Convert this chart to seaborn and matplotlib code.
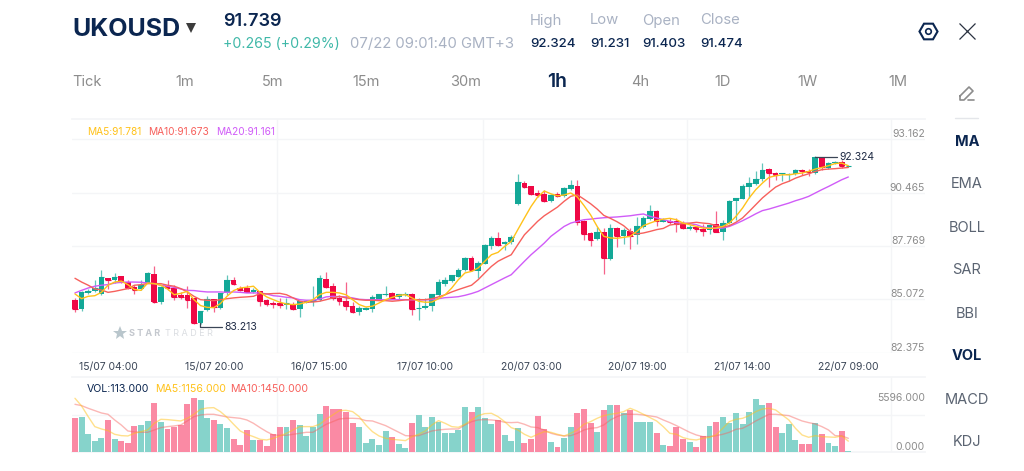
"""Candlestick trading screen for UKOUSD, 1h candles with volume panel."""

import matplotlib
matplotlib.use("Agg")
import matplotlib.pyplot as plt
import numpy as np
import pandas as pd
import seaborn as sns

# ---------------------------------------------------------------------------
# Price candles
# ---------------------------------------------------------------------------
OPENS = [
    85.05, 84.60, 85.41, 85.47, 85.34, 86.15, 86.05, 86.23, 85.94, 85.69,
    85.59, 85.89, 86.35, 84.92, 85.76, 85.64, 85.27, 85.27, 85.14, 83.86,
    84.51, 85.09, 84.63, 85.37, 86.06, 85.66, 85.64, 85.46, 85.47, 85.02,
    84.90, 84.88, 84.80, 84.83, 84.56, 84.90, 84.95, 85.05, 86.11, 85.72,
    85.12, 85.00, 84.75, 84.45, 84.55, 84.60, 85.05, 85.27, 85.39, 85.17,
    85.29, 85.35, 84.61, 84.63, 84.72, 85.29, 85.84, 85.98, 86.21, 86.53,
    87.16, 86.48, 86.87, 87.74, 88.17, 87.88, 87.95, 89.88, 90.96, 90.77,
    90.44, 90.37, 90.02, 90.37, 90.27, 90.64, 90.79, 89.02, 88.42, 88.10,
    88.49, 87.09, 88.69, 88.25, 88.54, 88.33, 88.72, 89.12, 89.55, 88.99,
    89.04, 89.01, 88.87, 88.64, 88.70, 88.64, 88.55, 88.87, 88.49, 88.92,
    90.02, 90.15, 90.72, 90.87, 91.13, 91.65, 91.45, 91.38, 91.35, 91.40,
    91.60, 91.57, 91.45, 92.24, 91.70, 91.95, 92.00, 91.78,
]
CLOSES = [
    84.60, 85.44, 85.51, 85.64, 86.18, 86.03, 86.21, 85.94, 85.66, 85.56,
    85.81, 86.38, 84.92, 85.69, 85.64, 85.20, 85.20, 85.05, 83.86, 84.50,
    85.10, 84.68, 85.37, 86.05, 85.84, 85.56, 85.46, 85.52, 85.00, 84.83,
    84.83, 84.80, 84.87, 84.60, 84.97, 85.00, 85.05, 86.13, 85.69, 85.14,
    84.97, 84.72, 84.45, 84.63, 84.63, 85.17, 85.32, 85.35, 85.15, 85.32,
    85.35, 84.58, 84.65, 84.75, 85.32, 85.93, 86.05, 86.28, 86.57, 87.16,
    86.53, 86.92, 87.83, 88.18, 87.83, 87.98, 88.23, 90.99, 90.74, 90.39,
    90.35, 90.02, 90.35, 90.30, 90.69, 90.84, 88.99, 88.38, 88.08, 88.49,
    87.14, 88.69, 88.25, 88.55, 88.28, 88.75, 89.16, 89.53, 89.01, 89.09,
    88.96, 88.86, 88.65, 88.74, 88.64, 88.50, 88.84, 88.49, 88.92, 90.05,
    90.19, 90.79, 90.93, 91.16, 91.62, 91.43, 91.35, 91.43, 91.40, 91.60,
    91.53, 91.51, 92.24, 91.77, 91.97, 92.02, 91.78, 91.83,
]
HIGHS = [
    85.14, 85.47, 85.59, 86.06, 86.57, 86.15, 86.40, 86.26, 86.03, 85.81,
    86.06, 86.43, 86.73, 85.76, 86.03, 85.81, 85.42, 85.72, 85.14, 84.50,
    85.22, 85.09, 85.41, 86.28, 86.18, 85.72, 85.81, 85.64, 85.51, 85.09,
    84.97, 85.14, 85.14, 84.92, 85.00, 85.05, 85.72, 86.31, 86.45, 85.89,
    85.30, 85.93, 84.92, 84.72, 84.68, 85.27, 85.35, 85.76, 85.42, 85.35,
    85.42, 85.39, 85.14, 85.14, 85.35, 86.11, 86.20, 86.31, 86.65, 87.19,
    87.27, 86.99, 87.86, 88.25, 88.45, 88.01, 88.32, 91.40, 91.03, 90.81,
    90.57, 90.61, 90.39, 90.49, 90.72, 91.08, 91.09, 89.06, 88.45, 88.72,
    88.65, 88.89, 88.72, 88.67, 88.67, 89.23, 89.29, 89.83, 89.60, 89.16,
    89.18, 89.18, 89.01, 88.84, 88.79, 88.89, 88.89, 89.55, 89.09, 90.10,
    90.19, 90.89, 91.25, 91.53, 91.95, 91.70, 91.50, 91.45, 91.45, 91.65,
    91.65, 91.65, 92.32, 92.27, 92.00, 92.04, 92.09, 91.87,
]
LOWS = [
    84.41, 84.46, 85.32, 85.44, 85.30, 85.61, 85.89, 85.89, 85.59, 85.35,
    85.56, 85.89, 84.88, 84.83, 85.56, 85.02, 85.09, 84.63, 83.82, 83.82,
    84.46, 84.41, 84.60, 85.30, 85.81, 85.47, 85.42, 85.39, 84.72, 84.72,
    84.63, 84.63, 84.60, 84.55, 84.16, 84.88, 84.72, 84.97, 85.64, 85.05,
    84.80, 84.55, 84.38, 84.28, 84.51, 84.41, 85.02, 85.22, 85.12, 85.05,
    85.25, 84.28, 84.04, 84.60, 84.46, 85.25, 85.72, 85.94, 86.18, 86.48,
    86.48, 86.15, 86.84, 87.61, 87.78, 87.54, 87.88, 89.85, 90.67, 90.35,
    90.22, 89.98, 89.98, 90.24, 90.24, 90.61, 88.82, 88.08, 87.78, 88.06,
    86.36, 87.05, 87.71, 87.88, 87.61, 87.88, 88.67, 89.09, 88.79, 88.96,
    88.89, 88.45, 88.62, 88.59, 88.45, 88.28, 88.38, 88.45, 88.05, 88.87,
    89.09, 90.13, 90.19, 90.84, 91.03, 90.72, 91.08, 91.06, 91.03, 91.35,
    91.36, 91.31, 91.41, 91.58, 91.67, 91.92, 91.72, 91.75,
]

# ---------------------------------------------------------------------------
# Moving averages on price
# ---------------------------------------------------------------------------
MA5 = [
    85.34, 85.10, 85.22, 85.25, 85.42, 85.78, 85.94, 85.99, 85.81, 85.56,
    85.52, 85.89, 85.86, 85.78, 85.59, 85.30, 85.37, 85.47, 85.05, 84.75,
    84.66, 84.65, 84.85, 85.22, 85.51, 85.64, 85.68, 85.73, 85.42, 85.19,
    85.05, 84.92, 84.83, 84.80, 84.83, 84.92, 85.05, 85.30, 85.42, 85.42,
    85.39, 85.30, 85.05, 84.80, 84.68, 84.72, 84.88, 85.05, 85.17, 85.27,
    85.30, 85.14, 84.97, 84.92, 84.93, 85.10, 85.30, 85.64, 86.06, 86.40,
    86.48, 86.65, 86.99, 87.32, 87.44, 87.74, 87.99, 88.59, 89.18, 89.76,
    90.24, 90.54, 90.40, 90.30, 90.34, 90.44, 90.24, 89.81, 89.34, 88.75,
    88.25, 88.17, 88.15, 88.20, 88.25, 88.50, 88.79, 88.92, 89.04, 89.12,
    89.16, 89.09, 88.92, 88.84, 88.75, 88.67, 88.65, 88.67, 88.75, 88.92,
    89.26, 89.68, 90.19, 90.61, 90.94, 91.23, 91.31, 91.36, 91.36, 91.41,
    91.45, 91.53, 91.65, 91.73, 91.82, 91.93, 91.95, 91.82,
]
MA10 = [
    86.13, 85.94, 85.78, 85.59, 85.54, 85.42, 85.47, 85.54, 85.61, 85.78,
    85.81, 85.86, 85.86, 85.86, 85.78, 85.73, 85.61, 85.44, 85.22, 85.05,
    85.02, 85.00, 85.05, 85.10, 85.14, 85.17, 85.19, 85.22, 85.36, 85.34,
    85.36, 85.37, 85.30, 85.14, 84.97, 84.92, 84.93, 84.97, 85.05, 85.14,
    85.22, 85.14, 85.10, 85.05, 85.02, 85.02, 85.00, 85.00, 84.97, 85.00,
    85.04, 85.05, 85.05, 85.05, 85.10, 85.19, 85.30, 85.44, 85.56, 85.67,
    85.78, 86.06, 86.40, 86.73, 86.99, 87.16, 87.32, 87.83, 88.33, 88.67,
    89.01, 89.29, 89.51, 89.73, 90.02, 90.27, 90.35, 90.13, 89.90, 89.63,
    89.31, 89.16, 88.99, 88.79, 88.50, 88.37, 88.42, 88.50, 88.59, 88.65,
    88.82, 88.87, 88.89, 88.92, 88.96, 88.92, 88.89, 88.79, 88.72, 88.79,
    88.96, 89.18, 89.51, 89.85, 90.19, 90.47, 90.74, 90.91, 91.03, 91.19,
    91.31, 91.41, 91.53, 91.62, 91.65, 91.67, 91.70, 91.73,
]
MA20 = [
    85.39, 85.52, 85.64, 85.73, 85.78, 85.81, 85.89, 85.93, 85.94, 85.94,
    85.93, 85.89, 85.86, 85.78, 85.73, 85.67, 85.59, 85.52, 85.51, 85.47,
    85.44, 85.44, 85.44, 85.42, 85.44, 85.42, 85.39, 85.39, 85.39, 85.34,
    85.25, 85.22, 85.17, 85.14, 85.05, 85.02, 85.02, 85.08, 85.19, 85.22,
    85.20, 85.19, 85.14, 85.07, 85.05, 85.05, 85.05, 85.04, 85.05, 85.05,
    85.05, 85.04, 85.04, 85.04, 85.05, 85.10, 85.15, 85.17, 85.20, 85.27,
    85.36, 85.47, 85.64, 85.81, 85.98, 86.15, 86.31, 86.65, 86.99, 87.32,
    87.61, 87.91, 88.25, 88.50, 88.75, 88.92, 89.01, 89.09, 89.12, 89.16,
    89.19, 89.21, 89.23, 89.26, 89.29, 89.34, 89.38, 89.26, 89.18, 89.09,
    89.01, 88.94, 88.92, 88.89, 88.84, 88.72, 88.67, 88.65, 88.67, 88.75,
    88.89, 89.04, 89.21, 89.39, 89.55, 89.63, 89.73, 89.83, 89.93, 90.05,
    90.15, 90.27, 90.44, 90.61, 90.77, 90.94, 91.11, 91.25,
]

# ---------------------------------------------------------------------------
# Volume and its moving averages
# ---------------------------------------------------------------------------
VOLUME = [
    3519, 3622, 1863, 1207, 1449, 3346, 1380, 1207, 1000, 2725,
    2829, 3243, 5106, 3140, 2415, 2622, 2829, 5002, 5596, 5416,
    3553, 3312, 2932, 2518, 1345, 724, 2277, 1276, 1276, 655,
    1863, 2622, 2622, 3346, 2829, 1656, 2587, 3933, 4761, 4450,
    4450, 4209, 3001, 2622, 931, 1345, 793, 2173, 1587, 897,
    483, 3001, 3864, 2656, 3657, 3174, 2001, 2001, 2277, 4657,
    4174, 4657, 3588, 2898, 3346, 1828, 1138, 2484, 966, 1345,
    3726, 2415, 1104, 517, 1483, 2622, 4071, 4450, 3001, 2139,
    4381, 4864, 4864, 4036, 4381, 3174, 3140, 3140, 1966, 759,
    655, 2587, 1345, 1104, 517, 1656, 2691, 3140, 3657, 3036,
    4036, 2932, 4209, 5554, 4899, 5071, 2622, 2035, 2932, 1242,
    897, 862, 3001, 1932, 1000, 655, 2208, 113,
]
VOL_MA5 = [
    5589, 4796, 3692, 2657, 2415, 2243, 1863, 1725, 1691, 1967,
    2139, 2312, 3002, 3416, 3381, 3312, 3243, 3519, 3933, 4451,
    4589, 4623, 4209, 3623, 2898, 2208, 1863, 1622, 1346, 1277,
    1449, 1691, 1967, 2312, 2657, 2657, 2657, 2898, 3416, 3864,
    4313, 4347, 4209, 3692, 2829, 2139, 1691, 1449, 1346, 1277,
    1208, 1622, 1863, 2208, 2829, 3278, 3002, 2657, 2588, 2898,
    3347, 3795, 4002, 4037, 3692, 3174, 2553, 2312, 1863, 1553,
    1863, 2139, 2070, 1863, 1691, 1967, 2312, 2898, 3174, 3519,
    3795, 3933, 4037, 4209, 4554, 4278, 3933, 3588, 3243, 2657,
    1967, 1863, 1518, 1346, 1277, 1449, 1553, 1794, 2484, 3174,
    3416, 3519, 3795, 4209, 4485, 4554, 4382, 3864, 3347, 2484,
    1794, 1553, 1725, 1622, 1587, 1553, 1691, 1156,
]
VOL_MA10 = [
    4968, 4830, 4554, 4313, 4071, 3933, 3347, 2829, 2208, 2105,
    2070, 2070, 2312, 2553, 2657, 2726, 2829, 3243, 3692, 3864,
    3933, 3933, 3795, 3657, 3588, 3519, 3347, 3002, 2553, 2139,
    1794, 1760, 1760, 1863, 1967, 2070, 2070, 2484, 2898, 3174,
    3450, 3519, 3519, 3485, 3278, 3243, 3002, 2760, 2415, 2070,
    1725, 1691, 1725, 1967, 2208, 2312, 2381, 2415, 2415, 2829,
    3174, 3347, 3381, 3347, 3278, 3105, 3071, 3105, 2898, 2622,
    2553, 2312, 1967, 1794, 1691, 1725, 1967, 2312, 2484, 2553,
    2829, 3347, 3692, 3933, 3933, 3933, 3864, 3761, 3657, 3347,
    3071, 2760, 2415, 2070, 1794, 1622, 1622, 1725, 1863, 2070,
    2381, 2484, 2829, 3243, 3588, 3933, 3933, 3864, 3795, 3519,
    3243, 3071, 2933, 2657, 2312, 1725, 1691, 1450,
]

# ---------------------------------------------------------------------------
# Axis labels and screen text
# ---------------------------------------------------------------------------
DATE_POS = [5, 21, 37, 53, 69, 85, 101, 117]
DATE_LABELS = [
    "15/07 04:00", "15/07 20:00", "16/07 15:00", "17/07 10:00",
    "20/07 03:00", "20/07 19:00", "21/07 14:00", "22/07 09:00",
]
PRICE_TICKS = [82.375, 85.072, 87.769, 90.465, 93.162]
VOL_TICKS = [0, 5596]
TABS = ["Tick", "1m", "5m", "15m", "30m", "1h", "4h", "1D", "1W", "1M"]
TAB_X = [87, 185, 273, 366, 466, 557, 640, 723, 808, 898]
SIDE_ITEMS = ["MA", "EMA", "BOLL", "SAR", "BBI", "VOL", "MACD", "KDJ"]
SIDE_BOLD = ["MA", "VOL"]
SIDE_Y = [141.5, 184.5, 227.5, 270.5, 313.5, 356.5, 399.5, 442.5]
STAT_NAMES = ["High", "Low", "Open", "Close"]
STAT_VALUES = ["92.324", "91.231", "91.403", "91.474"]
STAT_X = [530, 590, 642, 700]

NAVY = "#0B2650"
GREY = "#8C8C8C"
SOFT = "#A9B2C3"
GRID = "#F4F5F7"
UP = "#13A897"
DOWN = "#EF0845"
UP_VOL = "#86D3CB"
DOWN_VOL = "#FA8AA4"
C_MA5 = "#FFC21A"
C_MA10 = "#F7605C"
C_MA20 = "#D05CF8"

W, H = 1024, 471


def panel_rect(left, top, right, bottom):
    return [left / W, 1 - bottom / H, (right - left) / W, (bottom - top) / H]


def draw_price(ax, idx, is_up):
    colors = np.where(is_up, UP, DOWN)
    wick_colors = np.where(is_up, "#62C5BA", "#F6638A")
    bottoms = np.minimum(OPENS, CLOSES)
    heights = np.abs(np.array(CLOSES) - np.array(OPENS))
    ax.vlines(idx, LOWS, HIGHS, colors=wick_colors, lw=0.9, zorder=2)
    ax.bar(idx, heights, bottom=bottoms, width=0.85, color=colors, lw=0, zorder=3)
    # dojis still need a visible body
    ax.hlines(np.array(CLOSES), idx - 0.42, idx + 0.42, colors=colors, lw=0.8, zorder=3)

    sns.lineplot(x=idx, y=MA20, color=C_MA20, lw=1.0, ax=ax, zorder=5)
    sns.lineplot(x=idx, y=MA10, color=C_MA10, lw=1.0, ax=ax, zorder=6)
    sns.lineplot(x=idx, y=MA5, color=C_MA5, lw=1.0, ax=ax, zorder=7)

    ax.set_xlim(-0.45, 128.6)
    ax.set_ylim(PRICE_TICKS[0], 94.18)
    ax.set_xticks(DATE_POS, DATE_LABELS, fontsize=7.5, color="#3A4556")
    ax.set_xticks([30.56, 61.7, 92.6, 123.5], minor=True)
    ax.set_yticks(PRICE_TICKS, [f"{v:.3f}" for v in PRICE_TICKS], fontsize=7.5, color=GREY)
    ax.yaxis.tick_right()
    ax.tick_params(axis="both", which="both", length=0)
    ax.tick_params(axis="x", pad=6.5)
    ax.tick_params(axis="y", pad=0)
    for label in ax.get_yticklabels():
        label.set_ha("right")
        label.set_va("bottom")
        label.set_y(label.get_position()[1])
    ax.grid(True, axis="y", color=GRID, lw=1, zorder=0)
    ax.grid(True, axis="x", which="minor", color=GRID, lw=1, zorder=0)
    ax.grid(False, axis="x", which="major")
    ax.set_xlabel("")
    ax.set_ylabel("")
    ax.spines[["left", "right", "bottom"]].set_visible(False)
    ax.spines["top"].set_color(GRID)
    ax.patch.set_alpha(0)


def draw_volume(ax, idx, is_up):
    vol_df = pd.DataFrame({
        "idx": idx,
        "volume": VOLUME,
        "side": np.where(is_up, "up", "down"),
    })
    sns.barplot(
        data=vol_df, x="idx", y="volume",
        hue="side", palette={"up": UP_VOL, "down": DOWN_VOL},
        native_scale=True, dodge=False, width=0.9,
        errorbar=None, saturation=1, legend=False, linewidth=0,
        ax=ax, zorder=3,
    )
    sns.lineplot(x=idx, y=VOL_MA10, color=C_MA10, lw=1.0, alpha=0.45, ax=ax, zorder=4)
    sns.lineplot(x=idx, y=VOL_MA5, color=C_MA5, lw=1.0, alpha=0.5, ax=ax, zorder=5)

    ax.set_xlim(-0.45, 128.6)
    ax.set_ylim(0, 7824)
    ax.set_xticks([])
    ax.set_xticks([30.56, 61.7, 92.6, 123.5], minor=True)
    ax.set_yticks(VOL_TICKS, ["0.000", "5596.000"], fontsize=7.5, color=GREY)
    ax.set_yticks([3912], minor=True)
    ax.yaxis.tick_right()
    ax.tick_params(axis="both", which="both", length=0)
    ax.tick_params(axis="y", pad=0)
    labels = ax.get_yticklabels()
    for label, va in zip(labels, ["bottom", "center"]):
        label.set_ha("right")
        label.set_va(va)
    ax.grid(True, axis="x", which="minor", color=GRID, lw=1, zorder=0)
    ax.grid(True, axis="y", which="minor", color=GRID, lw=1, zorder=0)
    ax.grid(False, axis="y", which="major")
    ax.set_xlabel("")
    ax.set_ylabel("")
    ax.spines[["left", "right"]].set_visible(False)
    ax.spines["top"].set_color(GRID)
    ax.spines["bottom"].set_color(GRID)
    ax.patch.set_alpha(0)


def draw_screen(ov):
    """Header, tabs, side menu and labels, placed in pixel coordinates."""
    ov.set_xlim(0, W)
    ov.set_ylim(H, 0)
    ov.axis("off")

    ov.text(72, 29, "UKOUSD", fontsize=18, fontweight="bold", color=NAVY, va="center")
    ov.plot([190.5], [28], marker="v", ms=6.5, color="#3C3C3C", mew=0)
    ov.text(223, 21, "91.739", fontsize=13, fontweight="semibold", color=NAVY, va="center")
    ov.text(223, 44, "+0.265 (+0.29%)", fontsize=10.2, color="#3FB8A8", va="center")
    ov.text(350, 44, "07/22 09:01:40 GMT+3", fontsize=10.7, color=SOFT, va="center")
    for name, value, x in zip(STAT_NAMES, STAT_VALUES, STAT_X):
        ov.text(x, 20.5, name, fontsize=10.7, color=SOFT, va="center")
        ov.text(x, 44, value, fontsize=9.6, fontweight="medium", color=NAVY, va="center")

    # settings and close icons
    ov.plot([928], [30.5], marker="H", ms=13, mfc="none", mec=NAVY, mew=1.5)
    ov.plot([928], [30.5], marker="o", ms=4, mfc="none", mec=NAVY, mew=1.2)
    ov.plot([966.5], [30.5], marker="x", ms=12, mec="#2A3240", mew=0.9)

    for tab, x in zip(TABS, TAB_X):
        if tab == "1h":
            ov.text(x, 82, tab, fontsize=14, fontweight="semibold", color=NAVY,
                    ha="center", va="center")
        else:
            ov.text(x, 82, tab, fontsize=10.5, color=GREY, ha="center", va="center")

    # pencil icon and divider
    ov.plot([960, 969, 973, 964, 960, 960], [96, 87, 91, 100, 100, 96], color=GREY, lw=1.2)
    ov.plot([968, 974], [100, 100], color=GREY, lw=1.2)
    ov.plot([955, 978], [117.5, 117.5], color="#E4E6EA", lw=1)

    for item, y in zip(SIDE_ITEMS, SIDE_Y):
        bold = item in SIDE_BOLD
        ov.text(967, y, item, fontsize=10.5, fontweight="bold" if bold else "normal",
                color=NAVY if bold else "#5B6472", ha="center", va="center")

    ov.text(87, 132, "MA5:91.781", fontsize=7.3, color=C_MA5, va="center")
    ov.text(148, 132, "MA10:91.673", fontsize=7.3, color=C_MA10, va="center")
    ov.text(216, 132, "MA20:91.161", fontsize=7.3, color=C_MA20, va="center")
    ov.text(87, 389, "VOL:113.000", fontsize=7.6, color=NAVY, va="center")
    ov.text(155, 389, "MA5:1156.000", fontsize=7.6, color=C_MA5, va="center")
    ov.text(230, 389, "MA10:1450.000", fontsize=7.6, color=C_MA10, va="center")

    # high / low callouts
    ov.plot([815, 837], [156.5, 156.5], color="#3A4556", lw=0.9)
    ov.text(839, 157, "92.324", fontsize=7.5, color="#1E2A44", va="center")
    ov.plot([200, 200, 222], [323, 326.5, 326.5], color="#3A4556", lw=0.9)
    ov.text(224, 327, "83.213", fontsize=7.5, color="#1E2A44", va="center")

    # watermark
    ov.plot([120], [333], marker="*", ms=10, color="#B9C6CC", mew=0)
    ov.text(129, 333.5, "S T A R", fontsize=6.5, fontweight="bold", color="#C4C8CE", va="center")
    ov.text(165, 333.5, "T R A D E R", fontsize=6.5, color="#DADDE1", va="center")


def main():
    sns.set_theme(style="white")
    plt.rcParams["font.family"] = ["Inter", "DejaVu Sans"]

    idx = np.arange(len(CLOSES))
    is_up = np.array(CLOSES) >= np.array(OPENS)

    fig = plt.figure(figsize=(W / 100, H / 100), dpi=100, facecolor="white")
    ax_price = fig.add_axes(panel_rect(72, 119, 925, 352.6))
    ax_vol = fig.add_axes(panel_rect(72, 376.7, 925, 452.3))
    overlay = fig.add_axes([0, 0, 1, 1], facecolor="none")

    draw_price(ax_price, idx, is_up)
    draw_volume(ax_vol, idx, is_up)
    draw_screen(overlay)

    fig.savefig("out.png", dpi=100)
    plt.close(fig)


if __name__ == "__main__":
    main()
